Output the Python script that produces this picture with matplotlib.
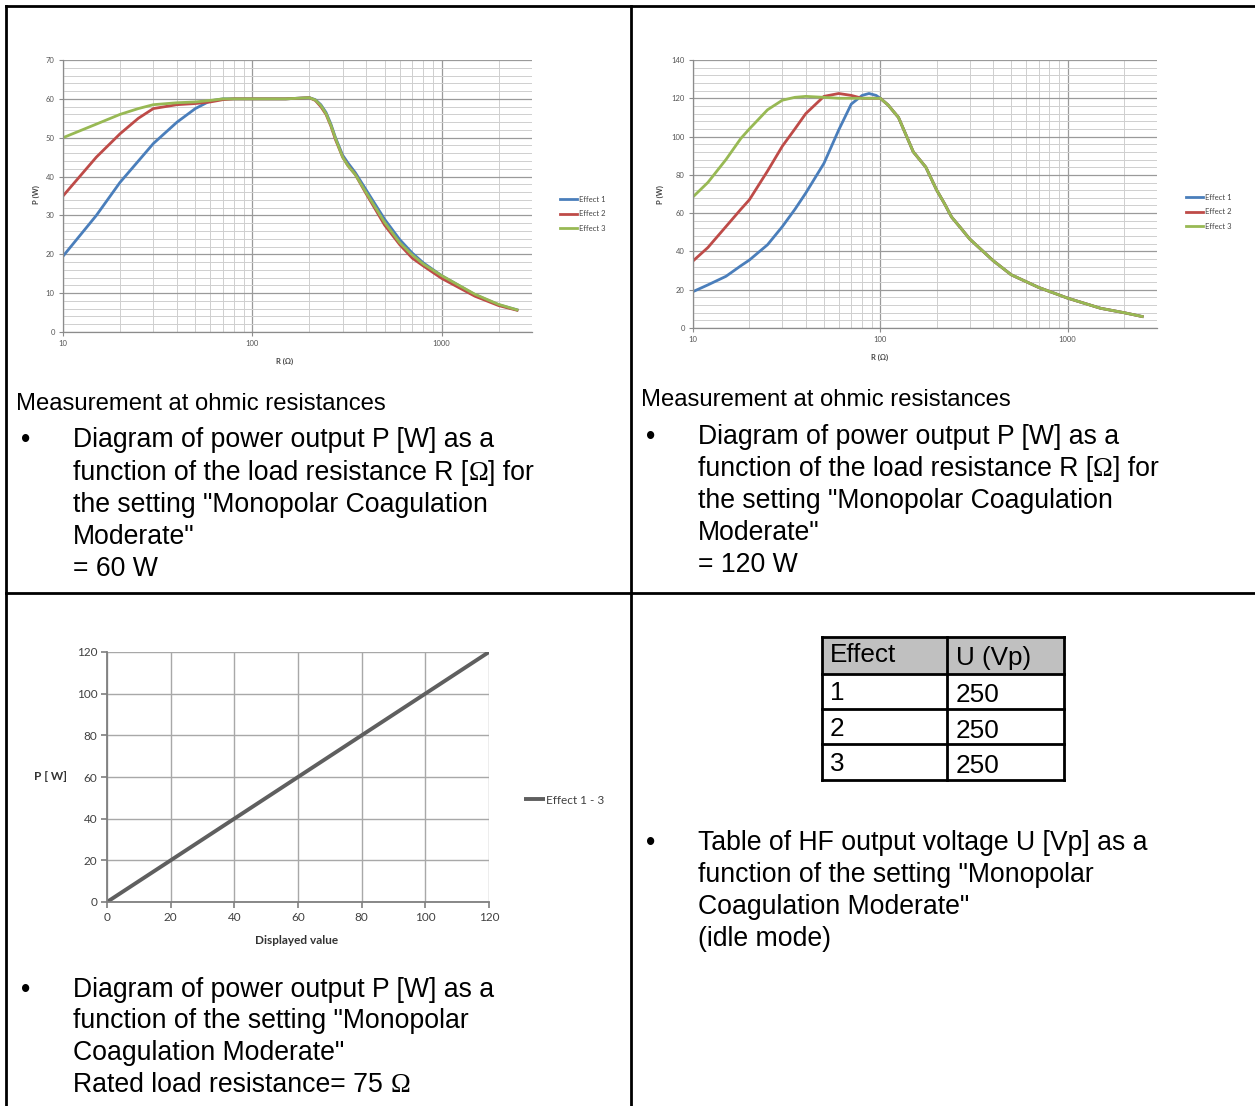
import matplotlib
matplotlib.use("Agg")
import matplotlib.pyplot as plt
from matplotlib.patches import Rectangle
from matplotlib.ticker import MultipleLocator, LogLocator, NullFormatter, FixedLocator

W, H = 1255, 1106

# --- data: 60 W setting ---
r_60 = [10, 15, 20, 25, 30, 40, 50, 60, 70, 80, 100, 150, 200, 215, 230, 245, 260, 275, 300, 320,
        350, 400, 500, 600, 700, 800, 1000, 1500, 2000, 2500]
p60_e1 = [19.5, 30, 38.5, 44, 48.5, 54, 57.5, 59.5, 60, 60, 60, 60, 60.3, 59.8, 58.5, 56.5, 53.5, 50, 45.5, 43.5,
          41, 36.5, 29, 23.8, 20.3, 17.8, 14.5, 9.6, 7.0, 5.7]
p60_e2 = [35, 45, 51, 55, 57.5, 58.5, 58.8, 59.2, 59.8, 60, 60, 60, 60.3, 59.6, 58, 56, 53, 49.5, 45, 42.8,
          40.5, 35.5, 27.5, 22.5, 19.0, 17.0, 13.8, 9.2, 6.8, 5.6]
p60_e3 = [50, 53.5, 56, 57.5, 58.5, 59, 59.2, 59.6, 60, 60, 60, 60, 60.3, 59.7, 58.3, 56.2, 53.2, 49.8, 45, 42.8,
          40.5, 35.8, 28.2, 23, 19.8, 17.5, 14.5, 9.7, 7.1, 5.7]

# --- data: 120 W setting ---
r_120 = [10, 12, 15, 18, 20, 25, 30, 35, 40, 50, 60, 70, 80, 87, 95, 100, 110, 125, 150, 175, 200,
         220, 240, 270, 300, 400, 500, 700, 1000, 1500, 2000, 2500]
p120_e1 = [19, 22.5, 27, 32.5, 35.5, 43.5, 53, 62, 70.5, 86, 103.5, 117, 121.5, 122.5, 121.5, 120, 116.5, 110,
           92, 84, 72, 65, 58, 52, 46.5, 35.2, 27.8, 21.2, 15.6, 10.3, 8, 6]
p120_e2 = [35, 42, 53, 62, 67, 82, 95, 104, 112, 121, 122.5, 121.5, 120, 120, 120, 120, 116.5, 110,
           92, 84, 72, 65, 58, 52, 46.5, 35.2, 27.8, 21.2, 15.6, 10.3, 8, 6]
p120_e3 = [68.5, 76, 88, 99, 104, 114, 119, 120.5, 121, 120.5, 120, 120, 120, 120, 120, 120, 116.5, 110,
           92, 84, 72, 65, 58, 52, 46.5, 35.2, 27.8, 21.2, 15.6, 10.3, 8, 6]

# --- data: power vs displayed value ---
displayed = [0, 20, 40, 60, 80, 100, 120]
power_out = [0, 20, 40, 60, 80, 100, 120]

# --- table data ---
table_header = ["Effect", "U (Vp)"]
table_effect = ["1", "2", "3"]
table_voltage = ["250", "250", "250"]

series_labels = ["Effect 1", "Effect 2", "Effect 3"]
series_colors = ["#4a7ebb", "#be4b48", "#98b954"]

body_font = "Liberation Sans"
omega_font = "Liberation Serif"
chart_font = "Lato"
OM = "\u03a9"


def box(l, t, r, b):
    return [l / W, 1 - b / H, (r - l) / W, (b - t) / H]


fig = plt.figure(figsize=(W / 100, H / 100), dpi=100)
renderer = fig.canvas.get_renderer()

bg = fig.add_axes([0, 0, 1, 1], zorder=0)
bg.set_xlim(0, W)
bg.set_ylim(H, 0)
bg.axis("off")

# cell borders
lw = 2
bg.plot([6, W + 5], [6, 6], color="black", lw=lw)
bg.plot([6, 6], [6, H + 5], color="black", lw=lw)
bg.plot([631, 631], [6, H + 5], color="black", lw=lw)
bg.plot([6, W + 5], [593, 593], color="black", lw=lw)


def write_line(x, y, s, size):
    # y is the visual centre of the line; Ω is drawn in a serif face like the original
    base = y + size * 0.4
    parts = s.split(OM)
    for i, p in enumerate(parts):
        if p:
            t = bg.text(x, base, p, fontsize=size, family=body_font, va="baseline", ha="left")
            x = bg.transData.inverted().transform(t.get_window_extent(renderer))[1][0]
        if i < len(parts) - 1:
            t = bg.text(x, base, OM, fontsize=size, family=omega_font, va="baseline", ha="left")
            x = bg.transData.inverted().transform(t.get_window_extent(renderer))[1][0]


def write_lines(x, ys, lines, size=19.2):
    for y, s in zip(ys, lines):
        write_line(x, y, s, size)


def bullet(x, y, size=19.2):
    bg.text(x, y + size * 0.4, "\u2022", fontsize=size, family=body_font, va="baseline", ha="left")


# texts top-left
write_lines(16, [403], ["Measurement at ohmic resistances"], size=17.2)
bullet(21, 439)
write_lines(73, [439, 472, 504, 536, 568],
            ["Diagram of power output P [W] as a",
             "function of the load resistance R [" + OM + "] for",
             "the setting \"Monopolar Coagulation",
             "Moderate\"",
             "= 60 W"])
# texts top-right
write_lines(641, [399], ["Measurement at ohmic resistances"], size=17.2)
bullet(646, 436)
write_lines(698, [436, 468, 500, 532, 564],
            ["Diagram of power output P [W] as a",
             "function of the load resistance R [" + OM + "] for",
             "the setting \"Monopolar Coagulation",
             "Moderate\"",
             "= 120 W"])
# texts bottom-left
bullet(21, 989)
write_lines(73, [989, 1020, 1052, 1084],
            ["Diagram of power output P [W] as a",
             "function of the setting \"Monopolar",
             "Coagulation Moderate\"",
             "Rated load resistance= 75 " + OM])
# texts bottom-right
bullet(646, 842)
write_lines(698, [842, 874, 906, 938],
            ["Table of HF output voltage U [Vp] as a",
             "function of the setting \"Monopolar",
             "Coagulation Moderate\"",
             "(idle mode)"])

# table
col_x = [822, 947, 1064]
row_y = [637, 674, 709, 744, 780]
bg.add_patch(Rectangle((col_x[0], row_y[0]), col_x[2] - col_x[0], row_y[1] - row_y[0],
                       facecolor="#c0c0c0", edgecolor="none"))
for y in row_y:
    bg.plot([col_x[0], col_x[2]], [y, y], color="black", lw=2)
for x in col_x:
    bg.plot([x, x], [row_y[0], row_y[-1]], color="black", lw=2)
rows = [table_header] + [[e, v] for e, v in zip(table_effect, table_voltage)]
for i, row in enumerate(rows):
    yc = (row_y[i] + row_y[i + 1]) / 2
    dy = 0 if i == 0 else 2
    bg.text(col_x[0] + 8, yc + dy, row[0], fontsize=18.8, family=body_font, va="center")
    bg.text(col_x[1] + 9, yc + dy + 2, row[1], fontsize=18.8, family=body_font, va="center")


def log_chart(rect, x, ys, ymax, ystep, yminor, legend_pos, ylabel_x, xlabel_pos):
    ax = fig.add_axes(box(*rect), zorder=1)
    for y, lab, c in zip(ys, series_labels, series_colors):
        ax.plot(x, y, color=c, lw=2.0, label=lab, solid_joinstyle="round")
    ax.set_xscale("log")
    ax.set_xlim(10, 3000)
    ax.set_ylim(0, ymax)
    ax.yaxis.set_major_locator(MultipleLocator(ystep))
    ax.yaxis.set_minor_locator(MultipleLocator(yminor))
    ax.xaxis.set_major_locator(FixedLocator([10, 100, 1000]))
    ax.xaxis.set_minor_locator(LogLocator(base=10, subs=range(2, 10)))
    ax.xaxis.set_minor_formatter(NullFormatter())
    ax.set_xticklabels(["10", "100", "1000"])
    ax.grid(which="major", color="#9a9a9a", lw=0.9)
    ax.grid(which="minor", color="#cfcfcf", lw=0.7)
    ax.set_axisbelow(True)
    for s in ["top", "right"]:
        ax.spines[s].set_visible(False)
    for s in ["left", "bottom"]:
        ax.spines[s].set_color("#8c8c8c")
        ax.spines[s].set_linewidth(0.9)
    ax.tick_params(which="major", labelsize=5.5, labelcolor="#555555", color="#8c8c8c", length=3, pad=3)
    ax.tick_params(which="minor", length=0)
    for t in ax.get_xticklabels() + ax.get_yticklabels():
        t.set_family(chart_font)
    fig.text(ylabel_x / W, 1 - 195 / H, "P (W)", rotation=90, fontsize=5.5, fontweight="bold",
             family=chart_font, color="#444444", ha="center", va="center")
    fig.text(xlabel_pos[0] / W, 1 - xlabel_pos[1] / H, "R (" + OM + ")", fontsize=5.5, fontweight="bold",
             family=chart_font, color="#444444", ha="center", va="center")
    leg = ax.legend(loc="center left", bbox_to_anchor=(legend_pos[0] / W, 1 - legend_pos[1] / H),
                    bbox_transform=fig.transFigure, frameon=False, fontsize=5.5,
                    handlelength=2.2, handletextpad=0.3, labelspacing=1.0, borderpad=0)
    for t in leg.get_texts():
        t.set_family(chart_font)
        t.set_color("#444444")
    return ax


log_chart((63, 60, 532, 332), r_60, [p60_e1, p60_e2, p60_e3], 70, 10, 2,
          (556, 214), 36, (285, 361))
log_chart((693, 60, 1157, 328), r_120, [p120_e1, p120_e2, p120_e3], 140, 20, 4,
          (1182, 212), 660, (880, 357))

# linear chart
ax3 = fig.add_axes(box(107, 652, 489, 902), zorder=1)
ax3.plot(displayed, power_out, color="#5f5f5f", lw=2.8, label="Effect 1 - 3", solid_capstyle="butt")
ax3.set_xlim(0, 120)
ax3.set_ylim(0, 120)
ax3.xaxis.set_major_locator(MultipleLocator(20))
ax3.yaxis.set_major_locator(MultipleLocator(20))
ax3.grid(color="#a8a8a8", lw=1)
ax3.set_axisbelow(True)
for s in ["top", "right"]:
    ax3.spines[s].set_visible(False)
for s in ["left", "bottom"]:
    ax3.spines[s].set_color("#7f7f7f")
    ax3.spines[s].set_linewidth(1.3)
ax3.tick_params(labelsize=8.5, labelcolor="#404040", color="#7f7f7f", length=4, width=1.2, pad=3)
for t in ax3.get_xticklabels() + ax3.get_yticklabels():
    t.set_family(chart_font)
fig.text(50 / W, 1 - 777 / H, "P [ W]", fontsize=8.5, fontweight="bold", family=chart_font,
         color="#333333", ha="center", va="center")
fig.text(297 / W, 1 - 941 / H, "Displayed value", fontsize=8.5, fontweight="bold", family=chart_font,
         color="#333333", ha="center", va="center")
leg3 = ax3.legend(loc="center left", bbox_to_anchor=(518 / W, 1 - 800 / H), bbox_transform=fig.transFigure,
                  frameon=False, fontsize=8.5, handlelength=1.8, handletextpad=0.1, borderpad=0)
for t in leg3.get_texts():
    t.set_family(chart_font)
    t.set_color("#404040")

fig.savefig("out.png", dpi=100, facecolor="white")
